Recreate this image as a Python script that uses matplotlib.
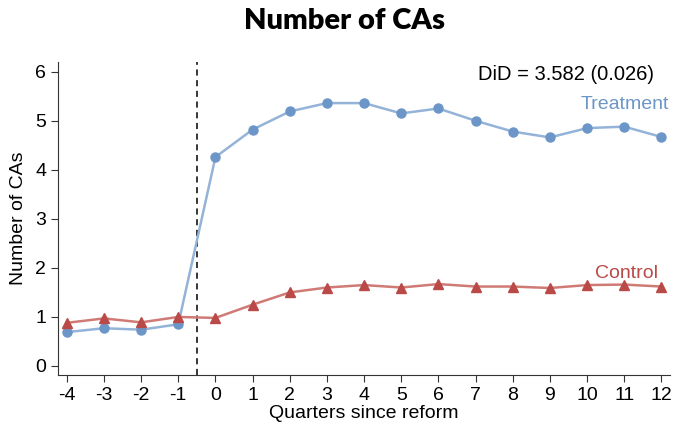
import matplotlib
matplotlib.use("Agg")
import matplotlib.pyplot as plt

quarters = [-4, -3, -2, -1, 0, 1, 2, 3, 4, 5, 6, 7, 8, 9, 10, 11, 12]
treatment = [0.69, 0.77, 0.74, 0.85, 4.26, 4.82, 5.19, 5.36, 5.36, 5.15, 5.25,
             5.00, 4.78, 4.66, 4.85, 4.88, 4.67]
control = [0.88, 0.97, 0.89, 1.00, 0.98, 1.25, 1.50, 1.60, 1.65, 1.60, 1.67,
           1.62, 1.62, 1.59, 1.65, 1.66, 1.62]
did_text = "DiD = 3.582 (0.026)"

blue_line, blue_mark = "#94b3d8", "#6c96c8"
red_line, red_mark = "#d07a76", "#b94a48"

plt.rcParams['font.family'] = ['Liberation Sans', 'DejaVu Sans']
plt.rcParams['axes.unicode_minus'] = False

fig = plt.figure(figsize=(6.73, 4.24), dpi=100)
ax = fig.add_axes([0.086, 0.116, 0.910, 0.738])

ax.plot(quarters, treatment, color=blue_line, lw=1.8, zorder=2)
ax.plot(quarters, treatment, 'o', color=blue_mark, ms=6.5, zorder=3)
ax.plot(quarters, control, color=red_line, lw=1.8, zorder=2)
ax.plot(quarters, control, '^', color=red_mark, ms=6.5, zorder=3)

ax.axvline(-0.5, color='black', ls=(0, (4, 3)), lw=1.1, zorder=1)

ax.set_xlim(-4.24, 12.24)
ax.set_ylim(-0.18, 6.2)
ax.set_xticks(quarters)
ax.set_yticks(range(0, 7))
ax.tick_params(labelsize=14, length=5, color='#333333')
for s in ['top', 'right']:
    ax.spines[s].set_visible(False)
for s in ['left', 'bottom']:
    ax.spines[s].set_color('#333333')

ax.set_xlabel("Quarters since reform", fontsize=14, labelpad=1)
ax.set_ylabel("Number of CAs", fontsize=14, labelpad=6)

ax.text(11.8, 5.94, did_text, ha='right', va='center', fontsize=14.5)
ax.text(12.2, 5.33, "Treatment", ha='right', va='center', fontsize=14, color=blue_mark)
ax.text(11.9, 1.88, "Control", ha='right', va='center', fontsize=14, color=red_mark)

fig.text(0.512, 0.95, "Number of CAs", ha='center', va='center', fontsize=21,
         fontweight='heavy', family=['Lato', 'DejaVu Sans'])

fig.savefig("out.png", dpi=100)
